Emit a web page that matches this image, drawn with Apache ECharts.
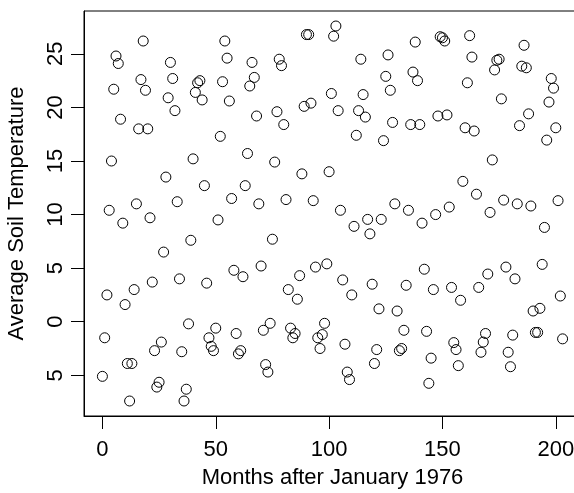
<!DOCTYPE html>
<html>
<head>
<meta charset="utf-8">
<script src="https://cdn.jsdelivr.net/npm/echarts@6/dist/echarts.min.js"></script>
<style>
html,body{margin:0;padding:0;background:#fff;}
#chart{width:574px;height:493px;background:#fff;}
</style>
</head>
<body>
<div id="chart"></div>
<script>
// Months after January 1976 (x) and average soil temperature (y)
const months = [
  0,1,2,3,4,5,6,7,8,9,10,11,12,13,14,15,16,17,18,19,20,21,22,23,
  24,25,26,27,28,29,30,31,32,33,34,35,36,37,38,39,40,41,42,43,44,45,46,47,
  48,49,50,51,52,53,54,55,56,57,58,59,60,61,62,63,64,65,66,67,68,69,70,71,
  72,73,74,75,76,77,78,79,80,81,82,83,84,85,86,87,88,89,90,91,92,93,94,95,
  96,97,98,99,100,101,102,103,104,105,106,107,108,109,110,111,112,113,114,115,116,117,118,119,
  120,121,122,123,124,125,126,127,128,129,130,131,132,133,134,135,136,137,138,139,140,141,142,143,
  144,145,146,147,148,149,150,151,152,153,154,155,156,157,158,159,160,161,162,163,164,165,166,167,
  168,169,170,171,172,173,174,175,176,177,178,179,180,181,182,183,184,185,186,187,188,189,190,191,
  192,193,194,195,196,197,198,199,200,201,202,203
];
const temps = [
  -5.1,-1.5,2.5,10.4,15.0,21.7,24.8,24.1,18.9,9.2,1.6,-3.9,
  -7.4,-3.9,3.0,11.0,18.0,22.6,26.2,21.6,18.0,9.7,3.7,-2.7,
  -6.1,-5.65,-1.9,6.5,13.5,20.9,24.2,22.7,19.7,11.2,4.0,-2.8,
  -7.4,-6.3,-0.2,7.6,15.2,21.4,22.3,22.5,20.7,12.7,3.6,-1.5,
  -2.3,-2.7,-0.6,9.5,17.3,22.4,26.2,24.6,20.6,11.5,4.8,-1.1,
  -3.0,-2.7,4.2,12.7,15.7,22.0,24.2,22.8,19.2,11.0,5.2,-0.8,
  -4.0,-4.7,-0.15,7.7,14.9,19.6,24.5,23.9,18.4,11.4,3.0,-0.6,
  -1.5,-1.1,2.1,4.3,13.8,20.1,26.8,26.8,20.4,11.3,5.1,-1.5,
  -2.5,-1.2,-0.15,5.4,14.0,21.3,26.65,27.6,19.7,10.4,3.9,-2.1,
  -4.7,-5.4,2.5,8.9,17.4,19.7,24.5,21.2,19.1,9.55,8.2,3.5,
  -3.9,-2.6,1.2,9.55,16.9,22.9,24.9,21.6,18.6,11.0,1.0,-2.7,
  -2.5,-0.8,3.4,10.4,18.4,23.3,26.1,22.5,18.4,9.2,4.9,-0.9,
  -5.75,-3.4,3.0,10.0,19.2,26.6,26.5,26.2,19.3,10.7,3.2,-1.95,
  -2.6,-4.1,2.0,13.1,18.1,22.3,26.7,24.7,17.8,11.9,3.2,-2.85,
  -1.9,-1.1,4.45,10.2,15.1,23.5,24.4,24.5,20.8,11.35,5.1,-2.85,
  -4.2,-1.25,4.0,11.0,18.3,23.85,25.8,23.7,19.4,10.8,1.0,-1.0,
  -1.0,1.25,5.35,8.8,16.95,20.5,22.7,21.8,18.1,11.3,2.4,-1.6
];
const xTicks = [0, 50, 100, 150, 200];
const yTicks = [-5, 0, 5, 10, 15, 20, 25];
const xTitle = 'Months after January 1976';
const yTitle = 'Average Soil Temperature';

const points = months.map((m, i) => [m, temps[i]]);
const FONT = "'Liberation Sans', Arial, Helvetica, sans-serif";
const FS = 22;
const X_MIN = -8.12, X_MAX = 211.12, Y_MIN = -8.8, Y_MAX = 29.0;
const gridBox = {left: 84, top: 11, right: -7, bottom: 77, containLabel: false, outerBoundsMode: 'none'};

const chart = echarts.init(document.getElementById('chart'));
chart.setOption({
  animation: false,
  grid: [
    Object.assign({show: true, borderColor: '#000', borderWidth: 1}, gridBox),
    Object.assign({show: false}, gridBox)
  ],
  xAxis: [{
    gridIndex: 0, type: 'value', min: X_MIN, max: X_MAX,
    name: xTitle, nameLocation: 'middle', nameGap: 51,
    nameTextStyle: {fontFamily: FONT, fontSize: FS, color: '#000'},
    axisLine: {show: true, onZero: false, lineStyle: {color: '#000', width: 1}},
    axisTick: {show: false},
    axisLabel: {customValues: xTicks, margin: 23, fontFamily: FONT, fontSize: FS, color: '#000'},
    splitLine: {show: false}
  }, {
    // tick marks only
    gridIndex: 1, type: 'value', min: X_MIN, max: X_MAX,
    axisLine: {show: false, onZero: false},
    axisTick: {show: true, length: 13, customValues: xTicks, lineStyle: {color: '#000', width: 1}},
    axisLabel: {customValues: xTicks, formatter: () => ''},
    splitLine: {show: false}
  }],
  yAxis: [{
    gridIndex: 0, type: 'value', min: Y_MIN, max: Y_MAX,
    name: yTitle, nameLocation: 'middle', nameGap: 56,
    nameTextStyle: {fontFamily: FONT, fontSize: FS, color: '#000'},
    axisLine: {show: true, onZero: false, lineStyle: {color: '#000', width: 1}},
    axisTick: {show: false},
    axisLabel: {customValues: yTicks, rotate: 90, margin: 17,
      fontFamily: FONT, fontSize: FS, color: '#000',
      formatter: v => String(Math.abs(v))},
    splitLine: {show: false}
  }, {
    // tick marks only
    gridIndex: 1, type: 'value', min: Y_MIN, max: Y_MAX,
    axisLine: {show: false, onZero: false},
    axisTick: {show: true, length: 13, customValues: yTicks, lineStyle: {color: '#000', width: 1}},
    axisLabel: {customValues: yTicks, formatter: () => ''},
    splitLine: {show: false}
  }],
  series: [{
    type: 'scatter',
    xAxisIndex: 0, yAxisIndex: 0,
    data: points,
    symbol: 'circle',
    symbolSize: 10,
    itemStyle: {color: 'rgba(0,0,0,0)', borderColor: '#000', borderWidth: 1, opacity: 1}
  }]
});
</script>
</body>
</html>
